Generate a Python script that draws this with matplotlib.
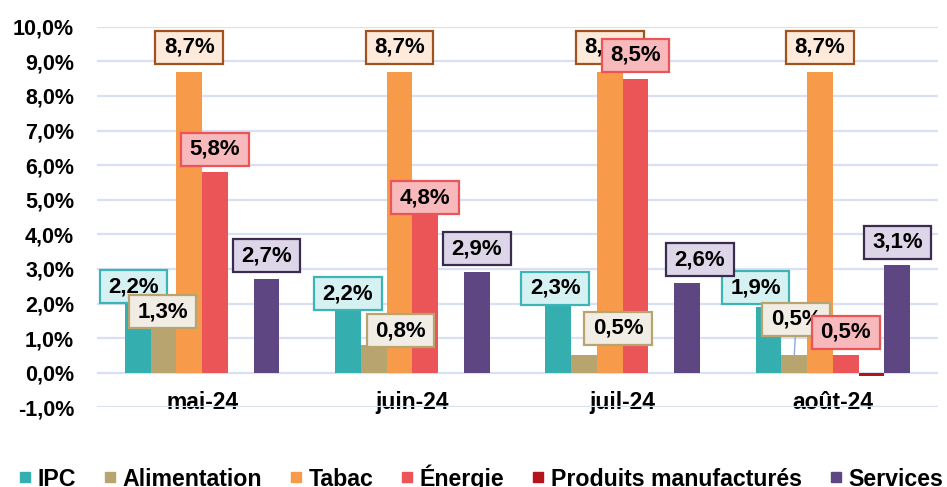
import matplotlib
matplotlib.use("Agg")
import matplotlib.pyplot as plt
import numpy as np
from matplotlib.path import Path
from matplotlib.lines import Line2D

plt.rcParams['font.family'] = ['Liberation Sans', 'DejaVu Sans']
plt.rcParams['font.weight'] = 'bold'

# ---- data ----
categories = ['mai-24', 'juin-24', 'juil-24', 'août-24']
series_names = ['IPC', 'Alimentation', 'Tabac', 'Énergie', 'Produits manufacturés', 'Services']
ipc = [2.2, 2.2, 2.3, 1.9]
alimentation = [1.3, 0.8, 0.5, 0.5]
tabac = [8.7, 8.7, 8.7, 8.7]
energie = [5.8, 4.8, 8.5, 0.5]
produits = [0.0, 0.0, 0.0, -0.1]
services = [2.7, 2.9, 2.6, 3.1]
yticks = [-1, 0, 1, 2, 3, 4, 5, 6, 7, 8, 9, 10]

# ---- styles ----
bar_colors = ['#35aeb0', '#b8a46e', '#f79b4b', '#eb5558', '#b5121b', '#5e4682']
box_fill = ['#d6f1f2', '#f1ede4', '#fdeadb', '#f7b9bb', None, '#ddd6e9']
box_edge = ['#3db5b7', '#b8a46e', '#a0531f', '#eb5558', None, '#3a2c4e']
show_label = [True, True, True, True, False, True]
# label offsets from bar top (pixels: dx, dy)
label_offsets = [
    [(-4, 10), (0, 3), (-3, 5), (-13, 19)],
    [(-1, 16), (27, 14.5), (34, 27), (2, 36)],
    [(0, 24.5), (0, 24.5), (0, 24.5), (0, 24.5)],
    [(0, 23), (0, 9), (0, 23.5), (0, 23)],
    [(0, 0), (0, 0), (0, 0), (0, 0)],
    [(0, 23.5), (0, 23.5), (13, 23), (0, 23)],
]

values = [ipc, alimentation, tabac, energie, produits, services]


def label_box(x0, y0, width, height, mutation_size):
    px = 0.38 * mutation_size
    py = 0.27 * mutation_size
    x0 -= px
    y0 -= py
    x1 = x0 + width + 2 * px
    y1 = y0 + height + 2 * py
    return Path([(x0, y0), (x1, y0), (x1, y1), (x0, y1), (x0, y0)], closed=True)


fig = plt.figure(figsize=(9.47, 4.87), dpi=100)
ax = fig.add_axes([97 / 947, 1 - 407.3 / 487, (938 - 97) / 947, (407.3 - 26.7) / 487])

x = np.arange(len(categories))
w = 0.1225
for j, (vals, col) in enumerate(zip(values, bar_colors)):
    xs = x + (j - 2.5) * w
    ax.bar(xs, vals, width=w, color=col, zorder=3, linewidth=0)

ax.spines['bottom'].set_position(('data', 0))
for s in ax.spines.values():
    s.set_visible(False)

ax.set_xlim(-0.5, len(categories) - 0.5)
ax.set_ylim(-1, 10)
ax.set_yticks(yticks)
ax.set_yticklabels([f"{v:.1f}%".replace('.', ',') for v in yticks], fontsize=15.5, fontweight='bold')
ax.yaxis.grid(True, color='#d9e0f3', linewidth=1.6, zorder=0)
ax.set_axisbelow(True)
ax.tick_params(axis='y', length=0, pad=16.5)
ax.set_xticks(x)
ax.set_xticklabels(categories, fontsize=16.5, fontweight='bold')
ax.tick_params(axis='x', length=0, pad=13.5)

# data labels
px2pt = 72 / 100
for j, vals in enumerate(values):
    if not show_label[j]:
        continue
    for i, v in enumerate(vals):
        dx, dy = label_offsets[j][i]
        bx = x[i] + (j - 2.5) * w
        txt = f"{v:.1f}%".replace('.', ',')
        arrow = None
        if j == 1 and i == 3:
            arrow = dict(arrowstyle='-', color='#8eaadb', lw=1.0, shrinkA=0, shrinkB=0)
        ax.annotate(txt, xy=(bx, v), xytext=(dx * px2pt, dy * px2pt), textcoords='offset points',
                    ha='center', va='center', fontsize=16, fontweight='bold', color='black',
                    zorder=5 + j, annotation_clip=False, arrowprops=arrow,
                    bbox=dict(boxstyle=label_box, facecolor=box_fill[j], edgecolor=box_edge[j], linewidth=1.6))

handles = [Line2D([], [], marker='s', color=c, linestyle='none', markersize=6.5) for c in bar_colors]
fig.legend(handles, series_names, loc='center', bbox_to_anchor=(0.5085, 0.02), ncol=6, frameon=False,
           prop={'weight': 'bold', 'size': 16.7}, handlelength=0.45, handletextpad=0.3,
           columnspacing=1.25, borderpad=0, borderaxespad=0)

fig.savefig('out.png', dpi=100)
